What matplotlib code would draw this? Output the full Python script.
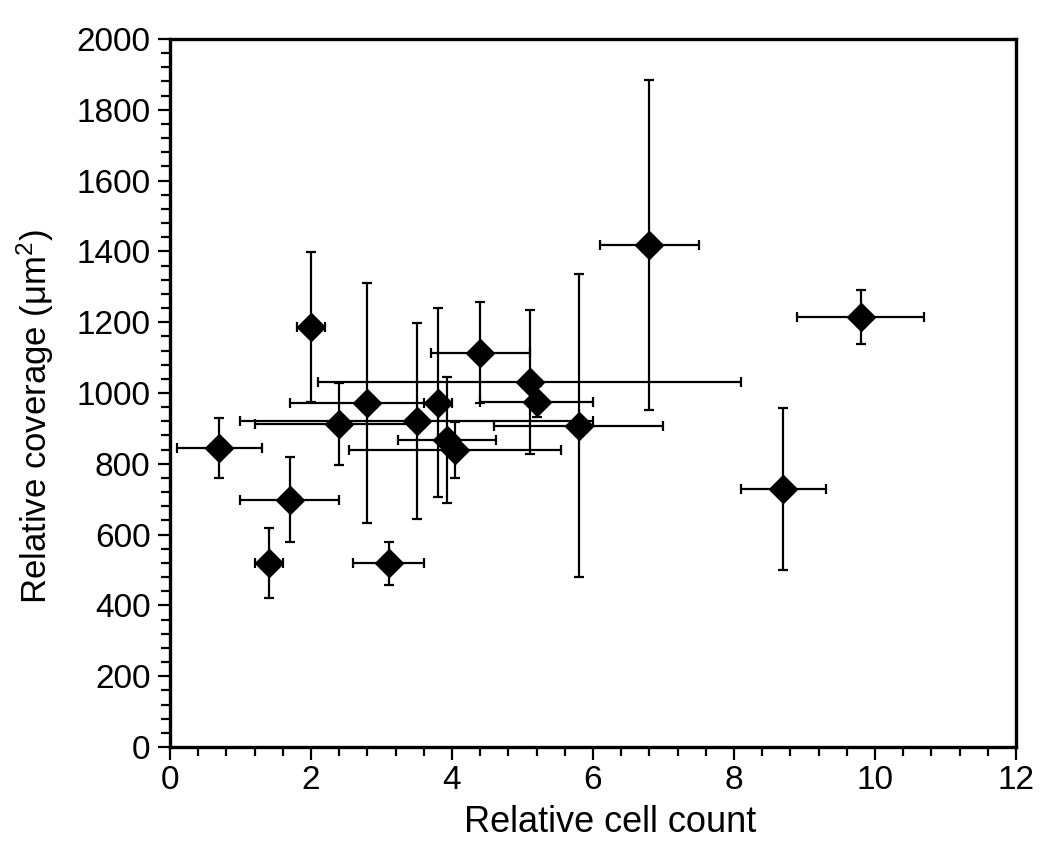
import matplotlib
matplotlib.use("Agg")
import matplotlib.pyplot as plt
from matplotlib.ticker import MultipleLocator

plt.rcParams['font.family'] = ['Liberation Sans', 'DejaVu Sans']
plt.rcParams['mathtext.fontset'] = 'custom'
plt.rcParams['mathtext.rm'] = 'Liberation Sans'
plt.rcParams['mathtext.it'] = 'Liberation Sans:italic'

# Data
cell_count = [0.7, 1.4, 1.7, 2.0, 2.4, 2.8, 3.1, 3.5, 3.8, 3.93, 4.04, 4.4, 5.1, 5.2, 5.8, 6.8, 8.7, 9.8]
coverage   = [845, 520, 698, 1186, 912, 972, 519, 921, 973, 866, 839, 1114, 1032, 976, 907, 1418, 729, 1215]
count_err  = [0.6, 0.2, 0.7, 0.2, 1.2, 1.1, 0.5, 2.5, 0.2, 0.7, 1.5, 0.7, 3.0, 0.8, 1.2, 0.7, 0.6, 0.9]
cover_err  = [85, 100, 120, 212, 115, 338, 60, 276, 267, 178, 80, 143, 203, 45, 428, 465, 230, 76]

fig = plt.figure(figsize=(10.5, 8.63), dpi=100)
ax = fig.add_axes([0.1619, 0.1344, 0.9676 - 0.1619, 0.9548 - 0.1344])

ax.errorbar(cell_count, coverage, xerr=count_err, yerr=cover_err,
            fmt='D', color='black', markersize=14, ecolor='black',
            elinewidth=1.6, capsize=3.8, capthick=1.6, zorder=3)

ax.set_xlim(0, 12)
ax.set_ylim(0, 2000)
ax.xaxis.set_major_locator(MultipleLocator(2))
ax.xaxis.set_minor_locator(MultipleLocator(0.4))
ax.yaxis.set_major_locator(MultipleLocator(200))
ax.yaxis.set_minor_locator(MultipleLocator(40))

for s in ax.spines.values():
    s.set_linewidth(2.4)

ax.tick_params(axis='both', which='major', direction='out', length=9, width=1.6,
               labelsize=24, top=False, right=False)
ax.tick_params(axis='both', which='minor', direction='out', length=6.5, width=1.6,
               top=False, right=False)
ax.tick_params(axis='x', which='major', pad=4)
ax.tick_params(axis='y', which='major', pad=5)

ax.set_xlabel('Relative cell count', fontsize=26)
ax.set_ylabel('Relative coverage (μm$^{2}$)', fontsize=25)
ax.xaxis.set_label_coords(0.52, -0.082)
ax.yaxis.set_label_coords(-0.135, 0.466)

fig.savefig('out.png', dpi=100)
